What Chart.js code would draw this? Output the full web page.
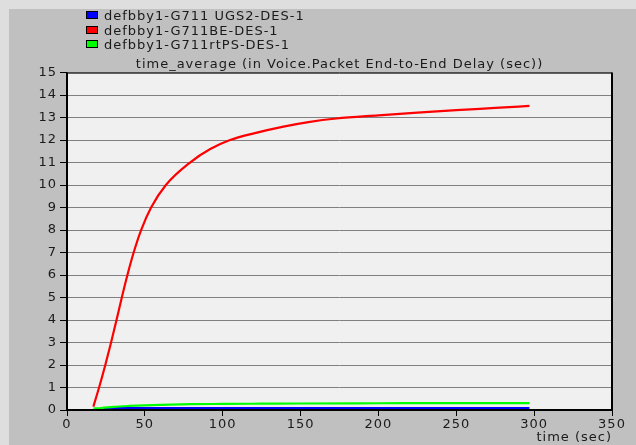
<!DOCTYPE html>
<html>
<head>
<meta charset="utf-8">
<script src="https://cdn.jsdelivr.net/npm/chart.js@4.4.1/dist/chart.umd.min.js"></script>
<style>
  html, body { margin: 0; padding: 0; background: #dedede; }
  #wrap { position: relative; width: 636px; height: 445px; overflow: hidden; }
  #panel { position: absolute; left: 9px; top: 9px; width: 627px; height: 436px; background: #c0c0c0; }
  canvas { position: absolute; left: 0; top: 0; }
  #legend { position: absolute; left: 86px; top: 9px; font: 13px "DejaVu Sans", sans-serif; letter-spacing: 1px; color: #1a1a1a; }
  .row { height: 14.5px; line-height: 14.5px; white-space: nowrap; }
  .box { display: inline-block; width: 10px; height: 6px; border: 1px solid #000; margin-right: 6px; vertical-align: 1px; }
</style>
</head>
<body>
<div id="wrap">
  <div id="panel"></div>
  <canvas id="c" width="636" height="445"></canvas>
  <div id="legend"></div>
</div>
<script>
// ---- data ----
const seriesNames = ["defbby1-G711 UGS2-DES-1", "defbby1-G711BE-DES-1", "defbby1-G711rtPS-DES-1"];
const seriesColors = ["#0000ff", "#ff0000", "#00ff00"];

const ugsTime  = [23.3, 40, 60, 100, 150, 200, 250, 297];
const ugsValue = [0.08, 0.08, 0.08, 0.08, 0.08, 0.08, 0.08, 0.08];

const beTime  = [16.9, 20.6, 24.6, 28.3, 31.8, 35.2, 38.8, 42.8, 47.6, 54.0, 63.5, 79, 92, 104.7, 120, 139, 155, 173, 200, 225, 250, 275, 297];
const beValue = [0.15, 1, 2, 3, 4, 5, 6, 7, 8, 9, 10, 11, 11.6, 12, 12.3, 12.6, 12.8, 12.96, 13.1, 13.22, 13.33, 13.43, 13.52];

const rtpsTime  = [17, 22, 30, 40, 50, 60, 80, 100, 125, 150, 200, 250, 297];
const rtpsValue = [0.07, 0.09, 0.14, 0.18, 0.21, 0.23, 0.26, 0.27, 0.28, 0.29, 0.3, 0.31, 0.31];

const xTicks = [0, 50, 100, 150, 200, 250, 300, 350];
const yTicks = [0, 1, 2, 3, 4, 5, 6, 7, 8, 9, 10, 11, 12, 13, 14, 15];

const titleText = "time_average (in Voice.Packet End-to-End Delay (sec))";
const xTitle = "time (sec)";

// ---- legend (HTML) ----
const leg = document.getElementById('legend');
seriesNames.forEach((n, i) => {
  const r = document.createElement('div');
  r.className = 'row';
  r.innerHTML = '<span class="box" style="background:' + seriesColors[i] + '"></span>' + n;
  leg.appendChild(r);
});

const pts = (xs, ys) => xs.map((x, i) => ({ x: x, y: ys[i] }));

const FONT = "'DejaVu Sans', sans-serif";

const bgPlugin = {
  id: 'bg',
  beforeDraw(chart) {
    const { ctx, chartArea: a } = chart;
    ctx.save();
    ctx.fillStyle = '#f0f0f0';
    ctx.fillRect(a.left, a.top, a.right - a.left, a.bottom - a.top);
    ctx.restore();
    ctx.letterSpacing = '1px';
  },
  afterDraw(chart) {
    const { ctx, chartArea: a } = chart;
    ctx.save();
    ctx.strokeStyle = '#000';
    ctx.lineWidth = 1;
    ctx.beginPath();
    ctx.moveTo(a.left, a.top + 0.5); ctx.lineTo(a.right, a.top + 0.5);
    ctx.stroke();
    ctx.lineWidth = 2;
    ctx.beginPath();
    ctx.moveTo(a.left, a.top); ctx.lineTo(a.left, a.bottom + 1);
    ctx.moveTo(a.right, a.top); ctx.lineTo(a.right, a.bottom + 1);
    ctx.moveTo(a.left - 1, a.bottom); ctx.lineTo(a.right + 1, a.bottom);
    ctx.stroke();
    ctx.restore();
  }
};

new Chart(document.getElementById('c'), {
  type: 'line',
  data: {
    datasets: [
      { label: seriesNames[0], data: pts(ugsTime, ugsValue), borderColor: seriesColors[0], backgroundColor: seriesColors[0], borderWidth: 2.2, pointRadius: 0, cubicInterpolationMode: 'monotone', order: 2 },
      { label: seriesNames[1], data: pts(beTime, beValue), borderColor: seriesColors[1], backgroundColor: seriesColors[1], borderWidth: 2.2, pointRadius: 0, cubicInterpolationMode: 'monotone', order: 0 },
      { label: seriesNames[2], data: pts(rtpsTime, rtpsValue), borderColor: seriesColors[2], backgroundColor: seriesColors[2], borderWidth: 2.2, pointRadius: 0, cubicInterpolationMode: 'monotone', order: 1 }
    ]
  },
  options: {
    responsive: false,
    animation: false,
    devicePixelRatio: 1,
    layout: { padding: { left: 0, right: 24, top: 0, bottom: 0 } },
    plugins: {
      legend: { display: false },
      tooltip: { enabled: false },
      title: {
        display: true,
        text: titleText,
        fullSize: false,
        color: '#1a1a1a',
        font: { family: FONT, size: 13, weight: 'normal', lineHeight: 1.2 },
        padding: { top: 57, bottom: 0 }
      }
    },
    scales: {
      x: {
        type: 'linear',
        min: 0, max: 350,
        afterBuildTicks(s) { s.ticks = xTicks.map(v => ({ value: v })); },
        afterFit(s) { s.height = 35; },
        border: { display: false },
        grid: { drawOnChartArea: false, drawTicks: true, tickLength: 6, tickColor: '#000', lineWidth: 1 },
        ticks: { color: '#1a1a1a', font: { family: FONT, size: 13 }, padding: 1, maxRotation: 0, autoSkip: false },
        title: { display: true, text: xTitle, align: 'end', color: '#1a1a1a', font: { family: FONT, size: 13 }, padding: { top: 0, bottom: 0 } }
      },
      y: {
        type: 'linear',
        min: 0, max: 15,
        afterBuildTicks(s) { s.ticks = yTicks.map(v => ({ value: v })); },
        afterFit(s) { s.width = 67; },
        border: { display: false },
        grid: { color: '#808080', lineWidth: 1, drawTicks: true, tickLength: 7, tickColor: '#000' },
        ticks: { color: '#1a1a1a', font: { family: FONT, size: 13 }, padding: 3, autoSkip: false }
      }
    }
  },
  plugins: [bgPlugin]
});
</script>
</body>
</html>
